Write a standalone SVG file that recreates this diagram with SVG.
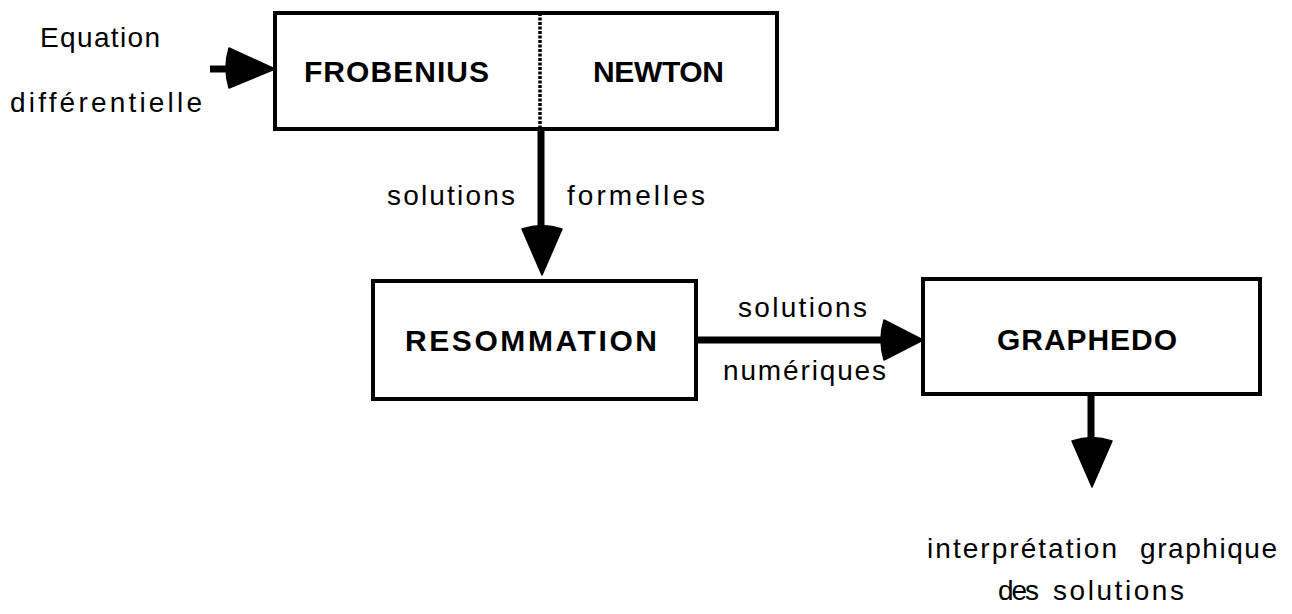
<svg xmlns="http://www.w3.org/2000/svg" width="1292" height="614" viewBox="0 0 1292 614">
<style>
.box{fill:#fff;stroke:#000;stroke-width:4}
.t{font-family:"Liberation Sans",Arial,sans-serif;font-size:28px;fill:#000}
.b{font-family:"Liberation Sans",Arial,sans-serif;font-size:30px;font-weight:bold;fill:#000}
.sh{stroke:#000;stroke-width:7;fill:none}
.hd{fill:#000;stroke:#000;stroke-width:1.5;stroke-linejoin:round}
</style>
<rect width="1292" height="614" fill="#fff"/>
<g id="input">
<text class="t" x="40" y="47" textLength="120" lengthAdjust="spacing">Equation</text>
<text class="t" x="10" y="112" textLength="192" lengthAdjust="spacing">différentielle</text>
</g>
<g id="frobenius-newton">
<rect class="box" x="275" y="13" width="502" height="116"/>
<line x1="540" y1="13" x2="540" y2="129" stroke="#000" stroke-width="3.5" stroke-dasharray="3 1.5"/>
<text class="b" x="304" y="82" textLength="185" lengthAdjust="spacing">FROBENIUS</text>
<text class="b" x="593" y="82" textLength="131" lengthAdjust="spacing">NEWTON</text>
</g>
<g id="resommation">
<rect class="box" x="373" y="281" width="323" height="118"/>
<text class="b" x="405" y="351" textLength="252" lengthAdjust="spacing">RESOMMATION</text>
</g>
<g id="graphedo">
<rect class="box" x="923" y="279" width="337" height="115"/>
<text class="b" x="997" y="350" textLength="180" lengthAdjust="spacing">GRAPHEDO</text>
</g>
<g id="output">
<text class="t" x="927" y="558" textLength="190" lengthAdjust="spacing">interprétation</text>
<text class="t" x="1140" y="558" textLength="137" lengthAdjust="spacing">graphique</text>
<text class="t" x="998" y="600" textLength="41" lengthAdjust="spacing">des</text>
<text class="t" x="1053" y="600" textLength="131" lengthAdjust="spacing">solutions</text>
</g>
<g id="connectors">
<line class="sh" x1="210" y1="69" x2="232" y2="69"/>
<path class="hd" d="M229,48 L275,69 L229,88 Q223,68 229,48 Z"/>
<line class="sh" x1="541" y1="129" x2="541" y2="232"/>
<path class="hd" d="M522,229 Q542,222 562,229 L542,275 Z"/>
<text class="t" x="387" y="205" textLength="128" lengthAdjust="spacing">solutions</text>
<text class="t" x="567" y="205" textLength="138" lengthAdjust="spacing">formelles</text>
<line class="sh" x1="696" y1="340" x2="886" y2="340"/>
<path class="hd" d="M884,320 L923,340 L884,360 Q878,340 884,320 Z"/>
<text class="t" x="738" y="317" textLength="129" lengthAdjust="spacing">solutions</text>
<text class="t" x="723" y="380" textLength="163" lengthAdjust="spacing">numériques</text>
<line class="sh" x1="1091" y1="394" x2="1091" y2="444"/>
<path class="hd" d="M1072,441 Q1092,434 1112,441 L1092,487 Z"/>
</g>
</svg>
